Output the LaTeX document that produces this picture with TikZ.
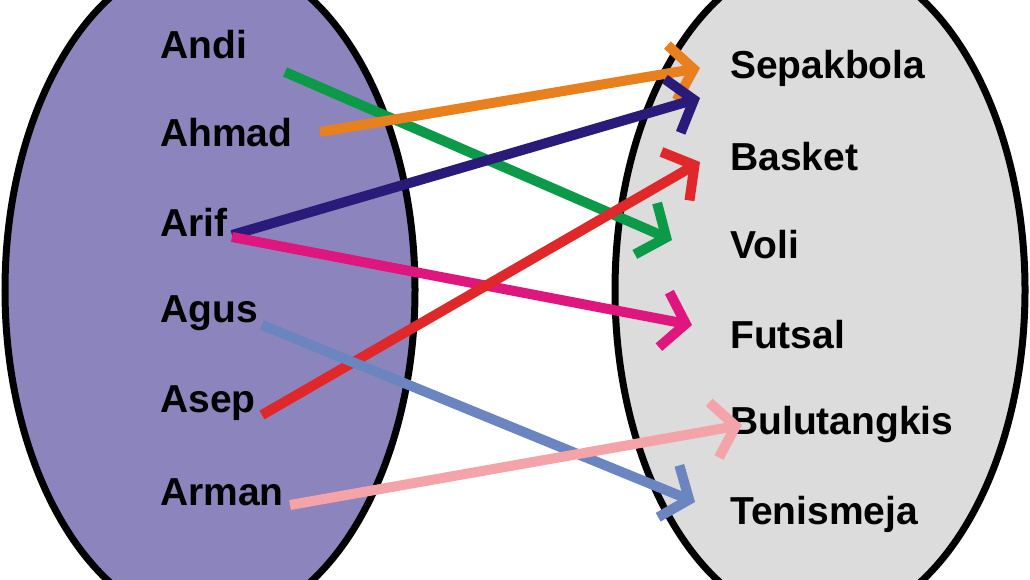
\documentclass[tikz,border=0pt]{standalone}
\usepackage{fontspec}
\setmainfont{Liberation Sans}
\usetikzlibrary{arrows.meta}
\definecolor{lf}{HTML}{8C84BC}
\definecolor{rf}{HTML}{DCDCDC}
\definecolor{cg}{HTML}{0A9A48}
\definecolor{co}{HTML}{E8801E}
\definecolor{cn}{HTML}{2A1A7A}
\definecolor{cmag}{HTML}{E0167F}
\definecolor{cr}{HTML}{E0282A}
\definecolor{cb}{HTML}{6B85C0}
\definecolor{cp}{HTML}{F4A3A8}
\begin{document}
\begin{tikzpicture}[x=1pt,y=-1pt,
  lab/.style={anchor=west,inner sep=0pt,font=\fontsize{39}{44}\selectfont\bfseries},
  arr/.style={line width=10pt,-{Straight Barb[length=22pt,width=56pt,line width=10pt]}}]
\useasboundingbox (0,0) rectangle (1030,579);
\begin{scope}
\clip (0,0) rectangle (1030,579);
\draw[line width=7pt,fill=lf] (210,290) ellipse [x radius=205,y radius=335];
\draw[line width=7pt,fill=rf] (820,290) ellipse [x radius=205,y radius=335];
\end{scope}
\foreach \n/\t/\y in {a1/Andi/45,a2/Ahmad/133,a3/Arif/222,a4/Agus/313,a5/Asep/403,a6/Arman/492}
  \node[lab] (\n) at (160,\y) {\t};
\foreach \n/\t/\y in {b1/Sepakbola/68,b2/Basket/157,b3/Voli/245,b4/Futsal/335,b5/Bulutangkis/424,b6/Tenismeja/514}
  \node[lab] (\n) at (730,\y) {\t};
\coordinate (g0) at (285,72); \coordinate (g1) at (672,240);
\coordinate (o0) at (320,132); \coordinate (o1) at (700,68);
\coordinate (n0) at (232,235); \coordinate (n1) at (700,98);
\coordinate (m0) at (232,237); \coordinate (m1) at (692,325);
\coordinate (r0) at (262,415); \coordinate (r1) at (700,162);
\coordinate (u0) at (262,325); \coordinate (u1) at (695,502);
\coordinate (p0) at (290,505); \coordinate (p1) at (742,425);
\draw[arr,cg] (g0) -- (g1);
\draw[arr,co] (o0) -- (o1);
\draw[arr,cn] (n0) -- (n1);
\draw[arr,cmag] (m0) -- (m1);
\draw[arr,cr] (r0) -- (r1);
\draw[arr,cb] (u0) -- (u1);
\draw[arr,cp] (p0) -- (p1);
\end{tikzpicture}
\end{document}
